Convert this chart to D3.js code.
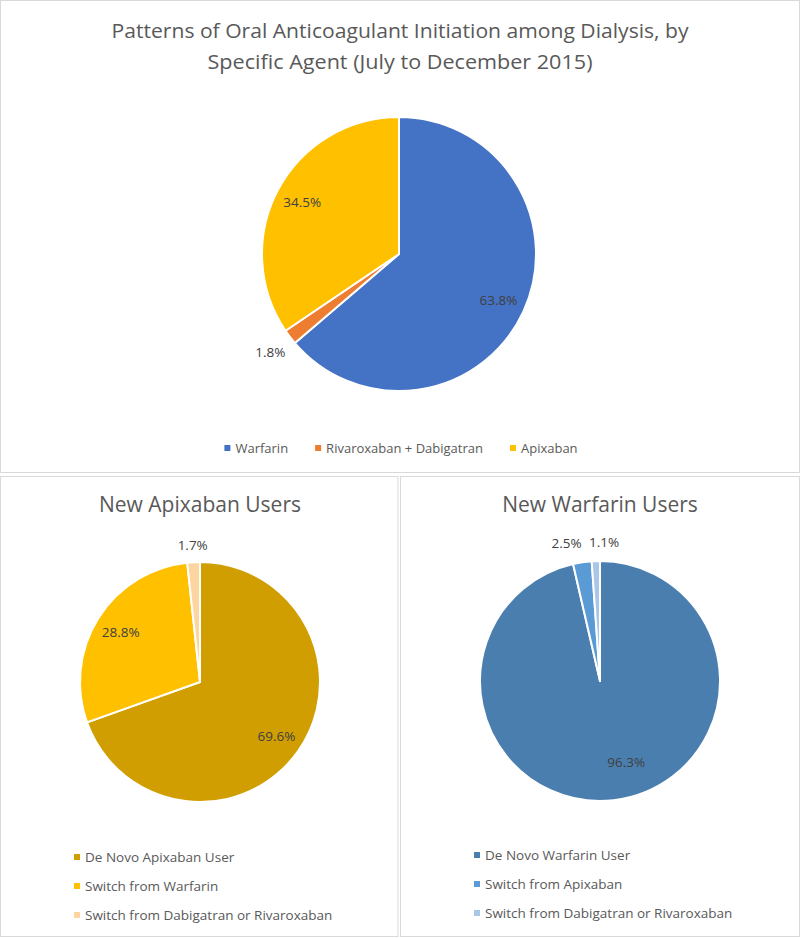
<!DOCTYPE html>
<html>
<head>
<meta charset="utf-8">
<script src="https://cdn.jsdelivr.net/npm/d3@7"></script>
<style>
  body { margin: 0; background: #fff; }
  svg { display: block; font-family: "Open Sans", "Noto Sans", sans-serif; }
</style>
</head>
<body>
<svg width="800" height="938"></svg>
<script>
// top chart: all new OAC starts
var mainTitle = ["Patterns of Oral Anticoagulant Initiation among Dialysis, by",
                 "Specific Agent (July to December 2015)"];
var mainCategories = ["Warfarin", "Rivaroxaban + Dabigatran", "Apixaban"];
var mainValues = [63.8, 1.8, 34.5];
var mainColors = ["#4472C4", "#ED7D31", "#FFC000"];

// bottom left: new apixaban users
var apixTitle = "New Apixaban Users";
var apixCategories = ["De Novo Apixaban User", "Switch from Warfarin", "Switch from Dabigatran or Rivaroxaban"];
var apixValues = [69.6, 28.8, 1.7];
var apixColors = ["#D09E00", "#FFC000", "#FCD5A0"];

// bottom right: new warfarin users
var warfTitle = "New Warfarin Users";
var warfCategories = ["De Novo Warfarin User", "Switch from Apixaban", "Switch from Dabigatran or Rivaroxaban"];
var warfValues = [96.3, 2.5, 1.1];
var warfColors = ["#4A7EAF", "#5B9BD5", "#A9C5E8"];

var svg = d3.select("svg");
var textGrey = "#595959", labelGrey = "#404040";

// panel frames
[[0.5, 0.5, 799, 472], [0.5, 476.5, 397.5, 460], [400.5, 476.5, 399, 460]].forEach(function(p) {
  svg.append("rect")
    .attr("x", p[0]).attr("y", p[1])
    .attr("width", p[2]).attr("height", p[3])
    .attr("fill", "none")
    .attr("stroke", "#D9D9D9")
    .attr("stroke-width", 1);
});

function drawPie(opt) {
  var g = svg.append("g").attr("transform", "translate(" + opt.cx + "," + opt.cy + ")");
  var data = opt.categories.map(function(c, i) { return {cat: c, value: opt.values[i], i: i}; });
  var color = d3.scaleOrdinal().domain(opt.categories).range(opt.colors);

  var pie = d3.pie().sort(null).value(function(d) { return d.value; });
  var arc = d3.arc().innerRadius(0).outerRadius(opt.r);
  var arcs = pie(data);

  g.selectAll("path.slice")
    .data(arcs)
    .enter().append("path")
      .attr("class", "slice")
      .attr("d", arc)
      .attr("fill", function(d) { return color(d.data.cat); })
      .attr("stroke", "#fff")
      .attr("stroke-width", 2)
      .attr("stroke-linejoin", "round");

  g.selectAll("text.lbl")
    .data(arcs)
    .enter().append("text")
      .attr("class", "lbl")
      .attr("transform", function(d) {
        var a = (d.startAngle + d.endAngle) / 2;
        var rr = d.data.value < 5 ? opt.r * opt.outFactor : opt.r * opt.inFactor;
        var nudge = opt.nudge[d.data.i] || [0, 0];
        return "translate(" + (Math.sin(a) * rr + nudge[0]) + "," + (-Math.cos(a) * rr + nudge[1]) + ")";
      })
      .attr("dy", "0.35em")
      .attr("text-anchor", "middle")
      .attr("font-size", opt.labelSize)
      .attr("fill", labelGrey)
      .text(function(d) { return d.data.value.toFixed(1) + "%"; });

  return color;
}

// ---- top chart ----
var titleG = svg.append("g");
titleG.append("text")
  .attr("x", 400).attr("y", 38)
  .attr("text-anchor", "middle")
  .attr("font-size", 20)
  .attr("fill", textGrey)
  .attr("textLength", 577).attr("lengthAdjust", "spacingAndGlyphs")
  .text(mainTitle[0]);
titleG.append("text")
  .attr("x", 400).attr("y", 69)
  .attr("text-anchor", "middle")
  .attr("font-size", 20)
  .attr("fill", textGrey)
  .attr("textLength", 385).attr("lengthAdjust", "spacingAndGlyphs")
  .text(mainTitle[1]);

var mainColor = drawPie({
  cx: 399, cy: 254, r: 137,
  categories: mainCategories, values: mainValues, colors: mainColors,
  inFactor: 0.8, outFactor: 1.18, labelSize: 13.5, nudge: {}
});

// horizontal legend, centred
var legTop = svg.append("g").attr("font-size", 13).attr("fill", textGrey);
var lx = 0;
var legItems = legTop.selectAll("g")
  .data(mainCategories)
  .enter().append("g");
legItems.append("rect")
  .attr("y", -3).attr("width", 6).attr("height", 6)
  .attr("fill", mainColor);
legItems.append("text")
  .attr("x", 11).attr("dy", "0.35em")
  .text(function(d) { return d; });
legItems.each(function() {
  var w = d3.select(this).select("text").node().getComputedTextLength() + 11;
  d3.select(this).attr("transform", "translate(" + lx + ",0)");
  lx += w + 27;
});
lx -= 27;
legTop.attr("transform", "translate(" + (401 - lx / 2) + ",448)");

// ---- bottom charts ----
function bottomPanel(opt) {
  svg.append("text")
    .attr("x", opt.cx).attr("y", 512)
    .attr("text-anchor", "middle")
    .attr("font-size", 21)
    .attr("fill", textGrey)
    .text(opt.title);

  var color = drawPie(opt);

  var leg = svg.append("g")
    .attr("font-size", 13.5)
    .attr("fill", textGrey)
    .selectAll("g")
    .data(opt.categories)
    .enter().append("g")
      .attr("transform", function(d, i) { return "translate(" + opt.legX + "," + (opt.legY + i * 29) + ")"; });
  leg.append("rect")
    .attr("y", -3).attr("width", 6).attr("height", 6)
    .attr("fill", color);
  leg.append("text")
    .attr("x", 11).attr("dy", "0.35em")
    .text(function(d) { return d; });
}

bottomPanel({
  title: apixTitle, cx: 200, cy: 682, r: 120,
  categories: apixCategories, values: apixValues, colors: apixColors,
  inFactor: 0.78, outFactor: 1.14, labelSize: 13.5, nudge: {},
  legX: 74, legY: 857
});

bottomPanel({
  title: warfTitle, cx: 600, cy: 681, r: 120,
  categories: warfCategories, values: warfValues, colors: warfColors,
  inFactor: 0.68, outFactor: 1.16, labelSize: 13.5,
  nudge: {0: [17, 0], 1: [-13, 0], 2: [9, 0]},
  legX: 474, legY: 855
});
</script>
</body>
</html>
